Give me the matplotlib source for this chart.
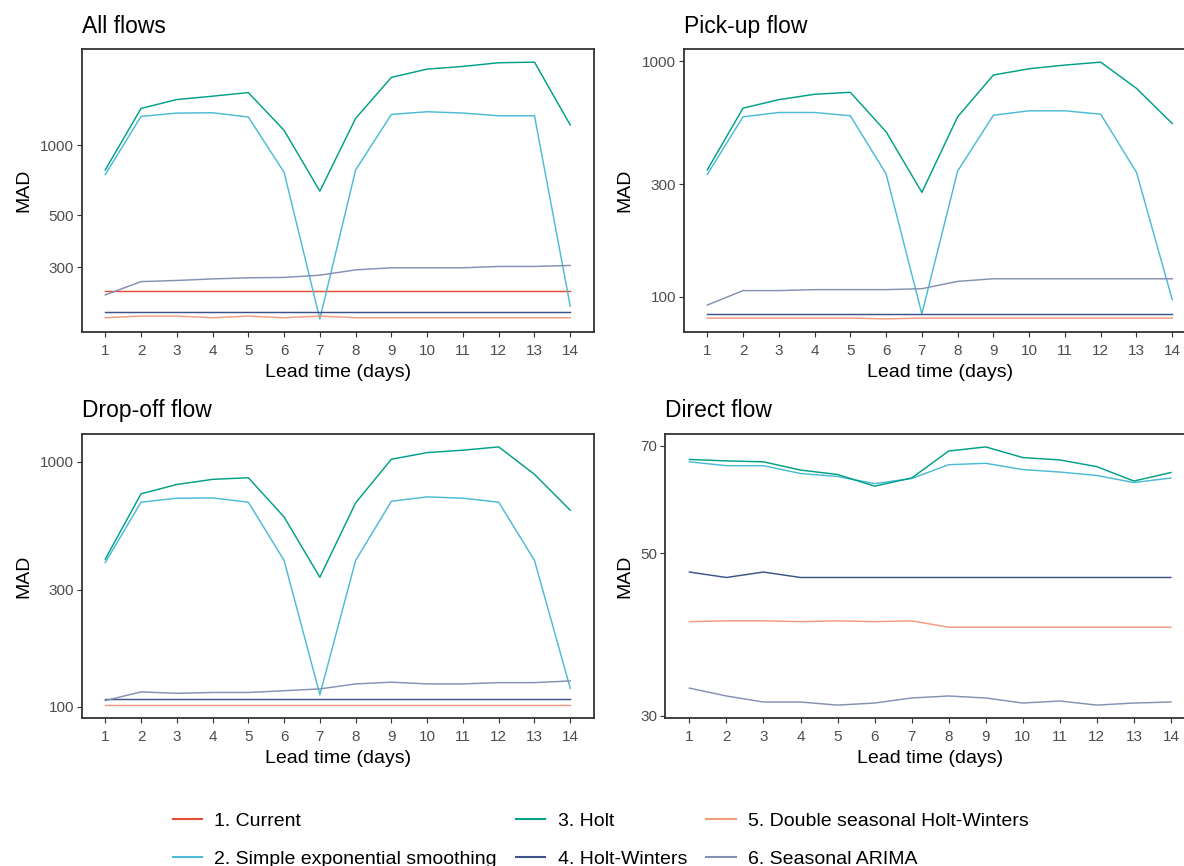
import matplotlib
matplotlib.use("Agg")
import matplotlib.pyplot as plt
from matplotlib.lines import Line2D
from matplotlib.ticker import FixedLocator, FixedFormatter, NullLocator

plt.rcParams['font.family'] = ['Liberation Sans', 'DejaVu Sans']

# ---------------- data ----------------
lead = [1, 2, 3, 4, 5, 6, 7, 8, 9, 10, 11, 12, 13, 14]

methods = ["1. Current", "2. Simple exponential smoothing", "3. Holt",
           "4. Holt-Winters", "5. Double seasonal Holt-Winters", "6. Seasonal ARIMA"]
colors = ["#E64B35", "#4DBBD5", "#00A087", "#3C5488", "#F39B7F", "#8491B4"]

# All flows
all_current = [238, 238, 238, 238, 238, 238, 238, 238, 238, 238, 238, 238, 238, 238]
all_ses = [748, 1328, 1373, 1377, 1320, 765, 180, 783, 1355, 1391, 1373, 1337, 1337, 204]
all_holt = [783, 1437, 1569, 1622, 1681, 1158, 635, 1303, 1953, 2119, 2176, 2256, 2270, 1220]
all_hw = [192, 192, 192, 192, 192, 192, 192, 192, 192, 192, 192, 192, 192, 192]
all_dshw = [182, 185, 185, 182, 185, 182, 185, 182, 182, 182, 182, 182, 182, 182]
all_sarima = [228, 260, 263, 267, 270, 271, 277, 292, 298, 298, 298, 302, 302, 305]

# Pick-up flow
pu_ses = [330, 580, 605, 605, 586, 332, 84.5, 341, 589, 615, 615, 595, 337, 97]
pu_holt = [345, 631, 686, 723, 737, 501, 277, 580, 873, 928, 962, 990, 766, 543]
pu_hw = [84.5, 84.5, 84.5, 84.5, 84.5, 84.5, 84.5, 84.5, 84.5, 84.5, 84.5, 84.5, 84.5, 84.5]
pu_dshw = [81, 81, 81, 81, 81, 80.4, 81, 81, 81, 81, 81, 81, 81, 81]
pu_sarima = [92, 106, 106, 107, 107, 107, 108, 116, 119, 119, 119, 119, 119, 119]

# Drop-off flow
do_ses = [388, 685, 711, 713, 685, 396, 112, 396, 691, 720, 711, 685, 396, 119]
do_holt = [401, 741, 809, 849, 862, 596, 338, 681, 1026, 1092, 1117, 1152, 890, 635]
do_hw = [108, 108, 108, 108, 108, 108, 108, 108, 108, 108, 108, 108, 108, 108]
do_dshw = [101.6, 101.6, 101.6, 101.6, 101.6, 101.6, 101.6, 101.6, 101.6, 101.6, 101.6, 101.6, 101.6, 101.6]
do_sarima = [106, 115, 113.5, 114.4, 114.4, 116.3, 118.3, 124, 126, 124, 124, 125.5, 125.5, 127.5]

# Direct flow
di_ses = [66.6, 65.8, 65.8, 64.2, 63.6, 62.2, 63.2, 66.0, 66.3, 65.0, 64.5, 63.8, 62.4, 63.3]
di_holt = [67.1, 66.8, 66.6, 64.9, 64.0, 61.7, 63.3, 68.9, 69.8, 67.5, 67.0, 65.6, 62.7, 64.4]
di_hw = [47.1, 46.3, 47.1, 46.3, 46.3, 46.3, 46.3, 46.3, 46.3, 46.3, 46.3, 46.3, 46.3, 46.3]
di_dshw = [40.3, 40.4, 40.4, 40.3, 40.4, 40.3, 40.4, 39.6, 39.6, 39.6, 39.6, 39.6, 39.6, 39.6]
di_sarima = [32.7, 31.9, 31.3, 31.3, 31.0, 31.2, 31.7, 31.9, 31.7, 31.2, 31.4, 31.0, 31.2, 31.3]

panels = [
    ("All flows", [all_current, all_ses, all_holt, all_hw, all_dshw, all_sarima],
     [300, 500, 1000]),
    ("Pick-up flow", [None, pu_ses, pu_holt, pu_hw, pu_dshw, pu_sarima],
     [100, 300, 1000]),
    ("Drop-off flow", [None, do_ses, do_holt, do_hw, do_dshw, do_sarima],
     [100, 300, 1000]),
    ("Direct flow", [None, di_ses, di_holt, di_hw, di_dshw, di_sarima],
     [30, 50, 70]),
]

# ---------------- layout (pixels) ----------------
W, H = 1184, 866
boxes = [  # left, right, top, bottom
    (82, 593.5, 49.3, 331.7),
    (684, 1195.5, 49.3, 331.7),
    (82, 593.5, 434, 718),
    (665.3, 1195, 434, 718),
]
ylabel_right = [32, 633, 32, 633]

fig = plt.figure(figsize=(W / 100, H / 100), dpi=100)
fig.patch.set_facecolor("white")

for i, ((title, series, yt), (l, r, t, b)) in enumerate(zip(panels, boxes)):
    ax = fig.add_axes([l / W, 1 - b / H, (r - l) / W, (b - t) / H])
    for s, c in zip(series, colors):
        if s is None:
            continue
        ax.plot(lead, s, color=c, lw=1.05, solid_joinstyle="round")
    ax.set_yscale("log")
    ax.margins(x=0.05, y=0.05)
    ax.yaxis.set_major_locator(FixedLocator(yt))
    ax.yaxis.set_major_formatter(FixedFormatter([str(v) for v in yt]))
    ax.yaxis.set_minor_locator(NullLocator())
    ax.set_xticks(lead)
    ax.set_xticklabels([str(v) for v in lead])
    ax.tick_params(axis="both", which="major", length=3.3, width=0.8,
                   color="#333333", labelcolor="#4D4D4D", labelsize=11)
    ax.tick_params(axis="x", pad=5.2)
    ax.tick_params(axis="y", pad=2.5)
    for sp in ax.spines.values():
        sp.set_color("#333333")
        sp.set_linewidth(1.3)
    ax.set_title(title, loc="left", fontsize=16.5, color="black", pad=12)
    ax.set_xlabel("Lead time (days)", fontsize=14, color="black", labelpad=4.5)
    ax.set_ylabel("MAD", fontsize=14, color="black")
    ax.yaxis.set_label_coords((ylabel_right[i] - l) / (r - l), 0.5)

handles = [Line2D([0], [0], color=c, lw=1.5) for c in colors]
fig.legend(handles, methods, ncol=3, loc="upper left",
           bbox_to_anchor=(173 / W, 1 - 812 / H), frameon=False,
           fontsize=14, handlelength=1.5, handletextpad=0.62,
           columnspacing=1.0, labelspacing=1.05, borderpad=0, borderaxespad=0)

fig.savefig("out.png", dpi=100, facecolor="white")
